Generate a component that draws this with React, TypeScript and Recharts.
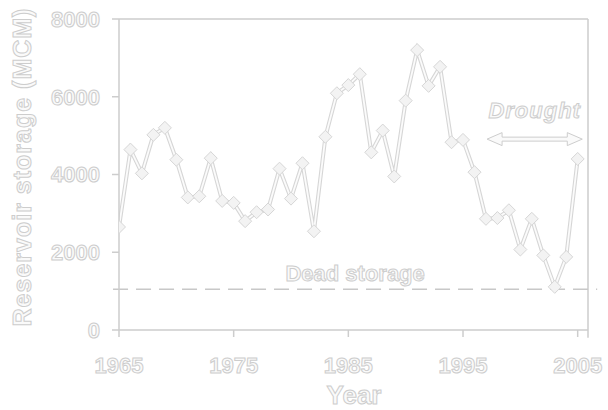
import React from 'react';
import { LineChart, Line, XAxis, YAxis, ReferenceLine } from 'recharts';

const years = [
  1965, 1966, 1967, 1968, 1969, 1970, 1971, 1972, 1973, 1974,
  1975, 1976, 1977, 1978, 1979, 1980, 1981, 1982, 1983, 1984,
  1985, 1986, 1987, 1988, 1989, 1990, 1991, 1992, 1993, 1994,
  1995, 1996, 1997, 1998, 1999, 2000, 2001, 2002, 2003, 2004, 2005,
];
const storage = [
  2650, 4640, 4030, 5020, 5200, 4380, 3410, 3440, 4420, 3320,
  3270, 2800, 3030, 3100, 4150, 3380, 4290, 2540, 4970, 6090,
  6300, 6580, 4570, 5130, 3950, 5900, 7200, 6280, 6770, 4830,
  4890, 4060, 2860, 2880, 3080, 2070, 2860, 1920, 1110, 1880, 4400,
];
const xTicks = [1965, 1975, 1985, 1995, 2005];
const yTicks = [0, 2000, 4000, 6000, 8000];
const xDomain = [1965, 2005.9];
const yDomain = [0, 8000];
const deadStorage = 1050;
const droughtYears = [1997.1, 2005.4];
const droughtLevel = 4910;

const data = years.map((year, i) => ({ year, storage: storage[i] }));

const grey = '#cdcdcd';
const font = '"Liberation Sans", Arial, Helvetica, sans-serif';
const outlined = {
  fill: '#fafafa',
  stroke: grey,
  strokeWidth: 1,
  fontFamily: font,
  fontWeight: 'bold' as const,
};

const Diamond = (props: any) => {
  const { cx, cy } = props;
  if (cx == null || cy == null) return null;
  const r = 6.5;
  return (
    <path
      d={`M${cx},${cy - r}L${cx + r},${cy}L${cx},${cy + r}L${cx - r},${cy}Z`}
      fill="#f3f3f3"
      stroke="#d6d6d6"
      strokeWidth={1}
    />
  );
};

const DroughtArrow = (props: any) => {
  const { x1, y1, x2 } = props;
  const y = y1;
  const head = 15;
  const hh = 6.5;
  const sh = 2;
  const pts = [
    [x1, y],
    [x1 + head, y - hh],
    [x1 + head, y - sh],
    [x2 - head, y - sh],
    [x2 - head, y - hh],
    [x2, y],
    [x2 - head, y + hh],
    [x2 - head, y + sh],
    [x1 + head, y + sh],
    [x1 + head, y + hh],
  ]
    .map((p) => p.join(','))
    .join(' ');
  return (
    <g>
      <polygon points={pts} fill="#fafafa" stroke={grey} strokeWidth={1} />
      <text
        x={(x1 + x2) / 2}
        y={y - 21.5}
        textAnchor="middle"
        fontSize={22}
        fontStyle="italic"
        letterSpacing={1}
        {...outlined}
      >
        Drought
      </text>
    </g>
  );
};

// rotated axis title, placed by hand
const YLabel = () => {
  const cx = 31;
  const cy = 167;
  return (
    <text
      x={cx}
      y={cy}
      transform={`rotate(-90, ${cx}, ${cy})`}
      textAnchor="middle"
      fontSize={25}
      letterSpacing={1}
      {...outlined}
    >
      Reservoir storage (MCM)
    </text>
  );
};

const XLabel = () => (
  <text x={354} y={404} textAnchor="middle" fontSize={26} {...outlined}>
    Year
  </text>
);

export default function App() {
  return (
    <div style={{ position: 'absolute', left: 0, top: 0, background: '#fff' }}>
      <LineChart
        width={608}
        height={410}
        data={data}
        margin={{ top: 19, right: 20, bottom: 0, left: 0 }}
      >
        <XAxis
          dataKey="year"
          type="number"
          domain={xDomain}
          ticks={xTicks}
          allowDataOverflow
          stroke={grey}
          strokeWidth={1.5}
          tickSize={7}
          tickMargin={20}
          height={80}
          tick={{ ...outlined, fontSize: 22 }}
          label={<XLabel />}
        />
        <YAxis
          type="number"
          domain={yDomain}
          ticks={yTicks}
          stroke={grey}
          strokeWidth={1.5}
          width={119}
          tickSize={7}
          tickMargin={12}
          tick={{ ...outlined, fontSize: 22 }}
          label={<YLabel />}
        />
        {/* box: top and right edges */}
        <ReferenceLine
          segment={[
            { x: xDomain[0], y: yDomain[1] },
            { x: xDomain[1], y: yDomain[1] },
          ]}
          ifOverflow="visible"
          stroke={grey}
          strokeWidth={1.5}
        />
        <ReferenceLine
          segment={[
            { x: xDomain[1], y: yDomain[0] - 200 },
            { x: xDomain[1], y: yDomain[1] },
          ]}
          ifOverflow="visible"
          stroke={grey}
          strokeWidth={1.5}
        />
        <ReferenceLine
          segment={[
            { x: 1964.48, y: deadStorage },
            { x: 2006.7, y: deadStorage },
          ]}
          ifOverflow="visible"
          stroke="#c8c8c8"
          strokeWidth={1.6}
          strokeDasharray="15 8"
          label={{
            value: 'Dead storage',
            position: 'top',
            offset: 8,
            fontSize: 22,
            ...outlined,
          }}
        />
        <ReferenceLine
          segment={[
            { x: droughtYears[0], y: droughtLevel },
            { x: droughtYears[1], y: droughtLevel },
          ]}
          ifOverflow="visible"
          shape={<DroughtArrow />}
        />
        <Line
          dataKey="storage"
          stroke="#d6d6d6"
          strokeWidth={4}
          dot={false}
          activeDot={false}
          isAnimationActive={false}
        />
        <Line
          dataKey="storage"
          stroke="#fbfbfb"
          strokeWidth={1.8}
          dot={<Diamond />}
          activeDot={false}
          isAnimationActive={false}
        />
      </LineChart>
    </div>
  );
}
